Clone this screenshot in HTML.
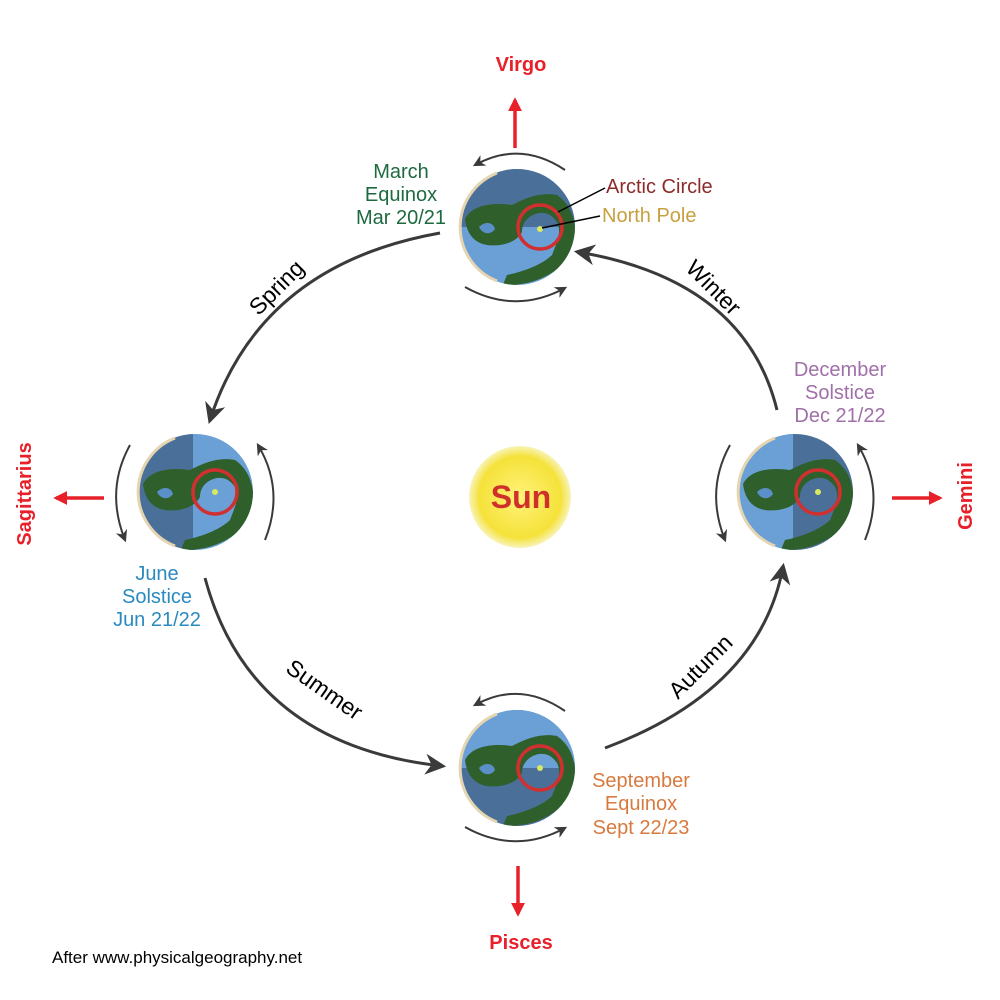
<!DOCTYPE html>
<html><head><meta charset="utf-8"><style>
body{margin:0;background:#fff}
svg{display:block;font-family:"Liberation Sans",Arial,sans-serif}
</style></head><body>
<svg width="1000" height="1000" viewBox="0 0 1000 1000">
<defs>
<radialGradient id="sun" cx="50%" cy="50%" r="50%"><stop offset="0" stop-color="#fff27a"/><stop offset="0.8" stop-color="#f5e23a"/><stop offset="1" stop-color="#f9f3b8"/></radialGradient>
<marker id="ah" viewBox="0 0 10 10" refX="8" refY="5" markerWidth="7" markerHeight="7" orient="auto"><path d="M0,0 L10,5 L0,10 L3,5 z" fill="#3a3a3a"/></marker>
<marker id="sa" viewBox="0 0 10 10" refX="8" refY="5" markerWidth="6" markerHeight="6" orient="auto"><path d="M0,0 L10,5 L0,10 L3,5 z" fill="#3a3a3a"/></marker>
<marker id="ra" viewBox="0 0 10 10" refX="8" refY="5" markerWidth="4" markerHeight="4" orient="auto"><path d="M0,0 L10,5 L0,10 z" fill="#e8202a"/></marker>
<g id="land">
<path d="M-52,-8 C-45,-22 -25,-25 -5,-22 C10,-30 25,-35 40,-32 C50,-25 56,-15 58,0 L58,20 C52,35 35,50 10,56 L-15,60 L-10,48 C5,45 25,38 35,28 C40,15 45,5 40,-5 C35,-12 30,-15 22,-14 C12,-12 5,-5 5,5 C0,15 -15,20 -30,18 C-42,16 -50,8 -52,-8z" fill="#2f5f2a"/>
<path d="M-38,0 C-32,-6 -24,-5 -22,2 C-26,8 -34,8 -38,0z" fill="#5b8fc8"/>
</g>
<clipPath id="ec"><circle cx="0" cy="0" r="58"/></clipPath>
</defs>

<!-- orbit arcs -->
<g fill="none" stroke="#3a3a3a" stroke-width="3">
<path d="M440,233 Q260,265 210,420" marker-end="url(#ah)"/>
<path d="M205,578 Q250,745 442,766" marker-end="url(#ah)"/>
<path d="M605,748 Q760,690 783,567" marker-end="url(#ah)"/>
<path d="M777,410 Q745,280 578,252" marker-end="url(#ah)"/>
</g>

<!-- Sun -->
<circle cx="520" cy="497" r="51" fill="url(#sun)"/>
<text x="521" y="508" font-size="32" font-weight="bold" fill="#d0302a" text-anchor="middle">Sun</text>

<!-- Earths -->
<g transform="translate(517,227)">
<g clip-path="url(#ec)"><rect x="-60" y="-60" width="120" height="120" fill="#6aa0d6"/><rect x="-60" y="-60" width="120" height="60" fill="#4a7099"/><use href="#land"/></g>
<path d="M-20,-54 A58,58 0 0 0 -20,54" fill="none" stroke="#e5d5b0" stroke-width="3"/>
<circle cx="23" cy="0" r="22" fill="none" stroke="#d03030" stroke-width="3.5"/><circle cx="23" cy="2" r="3" fill="#d8e860"/>
</g>
<g transform="translate(195,492)">
<g clip-path="url(#ec)"><rect x="-60" y="-60" width="120" height="120" fill="#6aa0d6"/><rect x="-60" y="-60" width="58" height="120" fill="#4a7099"/><use href="#land"/></g>
<path d="M-20,-54 A58,58 0 0 0 -20,54" fill="none" stroke="#e5d5b0" stroke-width="3"/>
<circle cx="20" cy="0" r="22" fill="none" stroke="#d03030" stroke-width="3.5"/><circle cx="20" cy="0" r="3" fill="#d8e860"/>
</g>
<g transform="translate(795,492)">
<g clip-path="url(#ec)"><rect x="-60" y="-60" width="120" height="120" fill="#4a7099"/><rect x="-60" y="-60" width="58" height="120" fill="#6aa0d6"/><use href="#land"/></g>
<path d="M-20,-54 A58,58 0 0 0 -20,54" fill="none" stroke="#e5d5b0" stroke-width="3"/>
<circle cx="23" cy="0" r="22" fill="none" stroke="#d03030" stroke-width="3.5"/><circle cx="23" cy="0" r="3" fill="#d8e860"/>
</g>
<g transform="translate(517,768)">
<g clip-path="url(#ec)"><rect x="-60" y="-60" width="120" height="120" fill="#4a7099"/><rect x="-60" y="-60" width="120" height="60" fill="#6aa0d6"/><use href="#land"/></g>
<path d="M-20,-54 A58,58 0 0 0 -20,54" fill="none" stroke="#e5d5b0" stroke-width="3"/>
<circle cx="23" cy="0" r="22" fill="none" stroke="#d03030" stroke-width="3.5"/><circle cx="23" cy="0" r="3" fill="#d8e860"/>
</g>

<!-- rotation arrows -->
<g fill="none" stroke="#3a3a3a" stroke-width="2">
<path d="M565,170 Q520,140 475,165" marker-end="url(#sa)"/>
<path d="M465,287 Q515,315 565,288" marker-end="url(#sa)"/>
<path d="M565,711 Q520,680 475,705" marker-end="url(#sa)"/>
<path d="M465,827 Q515,855 565,828" marker-end="url(#sa)"/>
<path d="M130,445 Q105,490 125,540" marker-end="url(#sa)"/>
<path d="M265,540 Q285,490 258,445" marker-end="url(#sa)"/>
<path d="M730,445 Q705,490 725,540" marker-end="url(#sa)"/>
<path d="M865,540 Q885,490 858,445" marker-end="url(#sa)"/>
</g>

<!-- leader lines -->
<line x1="558" y1="212" x2="605" y2="188" stroke="#000" stroke-width="1.5"/>
<line x1="542" y1="228" x2="600" y2="216" stroke="#000" stroke-width="1.5"/>
<text x="606" y="193" font-size="20" fill="#8e2a2a">Arctic Circle</text>
<text x="602" y="222" font-size="20" fill="#c8a040">North Pole</text>

<!-- date labels -->
<g font-size="20" fill="#1e6a40" text-anchor="middle">
<text x="401" y="178">March</text><text x="401" y="201">Equinox</text><text x="401" y="224">Mar 20/21</text></g>
<g font-size="20" fill="#2a8ac0" text-anchor="middle">
<text x="157" y="580">June</text><text x="157" y="603">Solstice</text><text x="157" y="626">Jun 21/22</text></g>
<g font-size="20" fill="#a070a8" text-anchor="middle">
<text x="840" y="376">December</text><text x="840" y="399">Solstice</text><text x="840" y="422">Dec 21/22</text></g>
<g font-size="20" fill="#d87a40" text-anchor="middle">
<text x="641" y="787">September</text><text x="641" y="810">Equinox</text><text x="641" y="834">Sept 22/23</text></g>

<!-- seasons -->
<text font-size="23" transform="translate(282,293) rotate(-45)" text-anchor="middle">Spring</text>
<text font-size="23" transform="translate(708,293) rotate(45)" text-anchor="middle">Winter</text>
<text font-size="23" transform="translate(320,696) rotate(35)" text-anchor="middle">Summer</text>
<text font-size="23" transform="translate(706,672) rotate(-45)" text-anchor="middle">Autumn</text>

<!-- constellations -->
<g stroke="#e8202a" stroke-width="3.5">
<line x1="515" y1="148" x2="515" y2="100" marker-end="url(#ra)"/>
<line x1="518" y1="866" x2="518" y2="914" marker-end="url(#ra)"/>
<line x1="104" y1="498" x2="56" y2="498" marker-end="url(#ra)"/>
<line x1="892" y1="498" x2="940" y2="498" marker-end="url(#ra)"/>
</g>
<text x="521" y="71" font-size="20" font-weight="bold" fill="#e8202a" text-anchor="middle">Virgo</text>
<text x="521" y="949" font-size="20" font-weight="bold" fill="#e8202a" text-anchor="middle">Pisces</text>
<text font-size="20" font-weight="bold" fill="#e8202a" text-anchor="middle" transform="translate(31,494) rotate(-90)">Sagittarius</text>
<text font-size="20" font-weight="bold" fill="#e8202a" text-anchor="middle" transform="translate(972,496) rotate(-90)">Gemini</text>

<text x="52" y="963" font-size="17" fill="#000">After www.physicalgeography.net</text>
</svg>
</body></html>
